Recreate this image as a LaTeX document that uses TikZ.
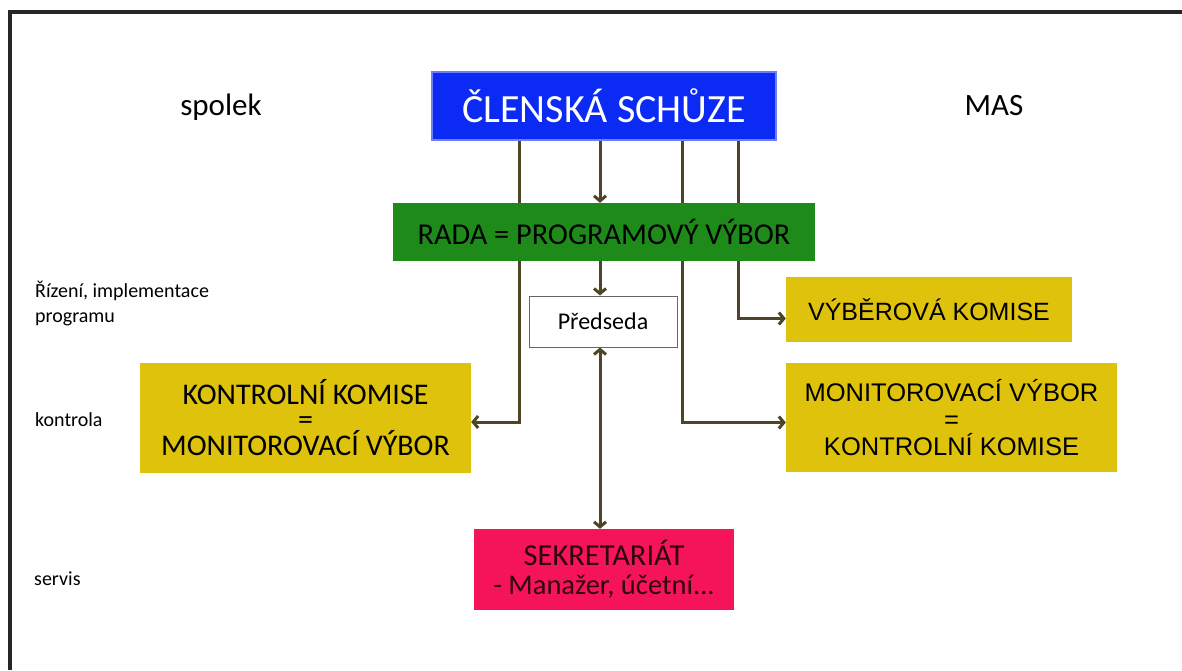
\documentclass[tikz,border=0pt]{standalone}
\usepackage{fontspec}
\setmainfont{Carlito}
\newfontfamily\arialfont{Liberation Sans}
\usetikzlibrary{arrows.meta,backgrounds}
\definecolor{schuze}{HTML}{0B2BF5}
\definecolor{rada}{HTML}{1E8A1A}
\definecolor{komise}{HTML}{DFC20B}
\definecolor{sekr}{HTML}{F5145A}
\definecolor{sekrtext}{HTML}{2E0610}
\definecolor{linka}{HTML}{4D4526}
\begin{document}
\begin{tikzpicture}[x=1pt, y=-1pt,
		box/.style = {inner sep=0pt, align=center},
		lbl/.style = {inner sep=0pt, font=\fontsize{20}{25}\selectfont},
		arr/.style = {draw=linka, line width=3pt, -{Straight Barb[length=5pt,width=12pt]}},
		arrs/.style = {draw=linka, line width=3pt, {Straight Barb[length=5pt,width=12pt]}-{Straight Barb[length=5pt,width=12pt]}}]
			\useasboundingbox (0,0) rectangle (1182,670);
			\draw[line width=4pt, black!85] (1182,12) -- (10,12) -- (10,670);
			\node[box, fill=schuze, draw=schuze!60, line width=1.5pt, text=white, minimum width=344, minimum height=68, font=\fontsize{40}{40}\selectfont] at (604,106) (schuze) {ČLENSKÁ SCHŮZE};
			\node[box, fill=rada, minimum width=422, minimum height=58, font=\fontsize{30.3}{30}\selectfont] at (604,232) (rada) {RADA = PROGRAMOVÝ VÝBOR};
			\node[box, draw=black!60, line width=1pt, fill=white, minimum width=148, minimum height=51, font=\fontsize{24}{25}\selectfont] at (603,321.5) (pred) {Předseda};
			\node[box, fill=komise, minimum width=286, minimum height=65, font=\arialfont\fontsize{25}{27}\selectfont] at (929,309.5) (vyber) {VÝBĚROVÁ KOMISE};
			\node[box, fill=komise, minimum width=331, minimum height=109, font=\arialfont\fontsize{25.5}{27}\selectfont] at (951.5,417.5) (monit) {MONITOROVACÍ VÝBOR\\=\\KONTROLNÍ KOMISE};
			\node[box, fill=komise, minimum width=331, minimum height=110, font=\fontsize{30}{25}\selectfont] at (305.5,418) (kontr) {KONTROLNÍ KOMISE\\=\\MONITOROVACÍ VÝBOR};
			\node[box, fill=sekr, text=sekrtext, minimum width=260, minimum height=81, font=\fontsize{28.5}{29}\selectfont] at (604,569.5) (sekret) {{\fontsize{30.5}{29}\selectfont SEKRETARIÁT}\\- Manažer, účetní...};
			\node[anchor=base, inner sep=0pt, font=\fontsize{31}{32}\selectfont] at (221,115) (spolek) {spolek};
			\node[anchor=base, inner sep=0pt, font=\fontsize{31}{32}\selectfont] at (994,115) (mas) {MAS};
			\node[lbl, anchor=base west, align=left] at (35,322) (rizeni) {Řízení, implementace\\programu};
			\node[lbl, anchor=base west] at (35,426) (kontrola) {kontrola};
			\node[lbl, anchor=base west] at (34,585) (servis) {servis};
			\coordinate (k1) at (519,0);
			\coordinate (k3) at (682,0);
			\coordinate (k4) at (738,0);
			\begin{scope}[on background layer]
				\draw[arr] ([xshift=-4pt]schuze.south) -- ([xshift=-4pt]rada.north);
				\draw[arr] (schuze.south -| k1) |- ([yshift=-4pt]kontr.east);
				\draw[arr] (schuze.south -| k3) |- ([yshift=-5pt]monit.west);
				\draw[arr] (schuze.south -| k4) |- ([yshift=-9pt]vyber.west);
				\draw[arr] ([xshift=-4pt]rada.south) -- ([xshift=-3pt]pred.north);
				\draw[arrs] ([xshift=-3pt]pred.south) -- ([xshift=-4pt]sekret.north);
			\end{scope}
		\end{tikzpicture}
\end{document}
